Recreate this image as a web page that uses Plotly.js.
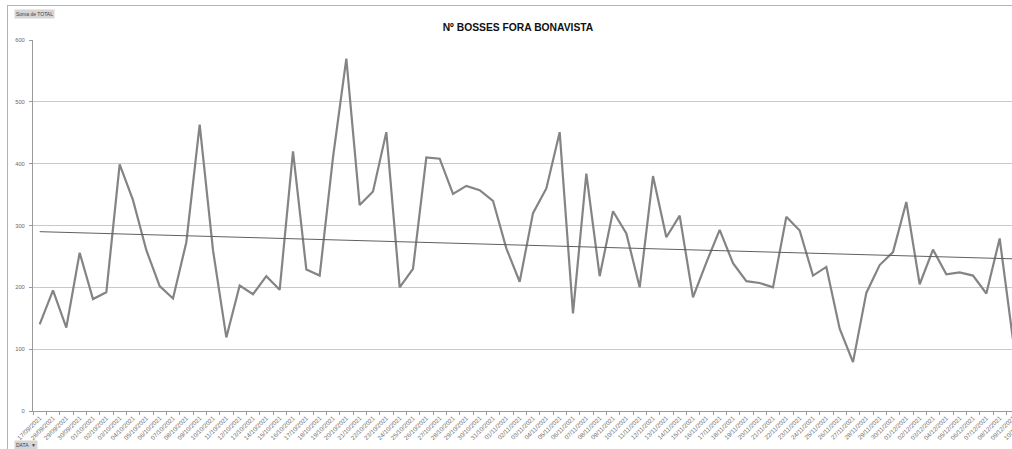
<!DOCTYPE html>
<html>
<head>
<meta charset="utf-8">
<script src="https://cdn.plot.ly/plotly-3.0.1.min.js"></script>
<style>
html, body { margin: 0; padding: 0; overflow: hidden; background: #fff; width: 1012px; height: 449px; }
#chart { position: absolute; left: 0; top: 0; }
#frame { position: absolute; left: 7px; top: 5px; width: 2000px; height: 2000px;
  border-left: 1px solid #b4b4b4; border-top: 1px solid #b4b4b4; pointer-events: none; }
</style>
</head>
<body>
<div id="chart"></div>
<div id="frame"></div>
<script>
// Categories (dates)
const dates = [
  "17/09/2021","28/09/2021","29/09/2021","30/09/2021",
  "01/10/2021","02/10/2021","03/10/2021","04/10/2021","05/10/2021","06/10/2021","07/10/2021","08/10/2021",
  "09/10/2021","10/10/2021","11/10/2021","12/10/2021","13/10/2021","14/10/2021","15/10/2021","16/10/2021",
  "17/10/2021","18/10/2021","19/10/2021","20/10/2021","21/10/2021","22/10/2021","23/10/2021","24/10/2021",
  "25/10/2021","26/10/2021","27/10/2021","28/10/2021","29/10/2021","30/10/2021","31/10/2021",
  "01/11/2021","02/11/2021","03/11/2021","04/11/2021","05/11/2021","06/11/2021","07/11/2021","08/11/2021",
  "09/11/2021","10/11/2021","11/11/2021","12/11/2021","13/11/2021","14/11/2021","15/11/2021","16/11/2021",
  "17/11/2021","18/11/2021","19/11/2021","20/11/2021","21/11/2021","22/11/2021","23/11/2021","24/11/2021",
  "25/11/2021","26/11/2021","27/11/2021","28/11/2021","29/11/2021","30/11/2021",
  "01/12/2021","02/12/2021","03/12/2021","04/12/2021","05/12/2021","06/12/2021","07/12/2021","08/12/2021",
  "09/12/2021","10/12/2021"
];

// Series: Soma de TOTAL
const totals = [
  140,195,135,256,181,192,399,341,260,202,
  182,273,463,260,119,203,189,218,196,420,
  229,219,410,570,333,355,451,200,230,410,
  408,351,364,357,340,263,209,320,360,451,
  158,384,218,323,287,200,380,281,316,184,
  240,293,239,210,207,200,314,292,219,233,
  133,79,191,236,257,338,205,261,221,224,
  219,190,279,115,150
];

// Linear trendline values at first and last category
const trendValues = [290, 245.5];

const yTicks = [0,100,200,300,400,500,600];

const W = 1045, H = 449;
const L = 33, R = 12, T = 40, B = 38;
const pw = W - L - R, ph = H - T - B;
function px2paperX(px) { return (px - L) / pw; }
function px2paperY(py) { return (H - B - py) / ph; }

const traces = [
  {
    type: 'scatter', mode: 'lines',
    x: dates, y: totals,
    line: { color: '#848484', width: 2.2 },
    hoverinfo: 'skip', showlegend: false
  },
  {
    type: 'scatter', mode: 'lines',
    x: [dates[0], dates[dates.length - 1]], y: trendValues,
    line: { color: '#5f5f5f', width: 1 },
    hoverinfo: 'skip', showlegend: false
  }
];

const layout = {
  width: W, height: H,
  margin: { l: L, r: R, t: T, b: B, pad: 0 },
  paper_bgcolor: 'rgba(0,0,0,0)',
  plot_bgcolor: '#ffffff',
  font: { family: 'Liberation Sans, Arial, sans-serif', color: '#666666' },
  title: {
    text: '<b>Nº BOSSES FORA BONAVISTA</b>',
    font: { family: 'Liberation Sans, Arial, sans-serif', size: 10.3, color: '#111111' },
    x: 518 / W, xref: 'container', xanchor: 'center',
    y: 1 - 27 / H, yref: 'container', yanchor: 'middle'
  },
  xaxis: {
    type: 'category',
    categoryorder: 'array', categoryarray: dates,
    range: [-0.5, dates.length - 0.5],
    tickson: 'boundaries',
    ticks: 'outside', ticklen: 3, tickcolor: '#9a9a9a', tickwidth: 1,
    tickangle: -45,
    tickfont: { size: 6.2, color: '#707070' },
    showgrid: false,
    showline: true, linecolor: '#9a9a9a', linewidth: 1,
    automargin: false, fixedrange: true
  },
  yaxis: {
    range: [0, 600],
    tickvals: yTicks,
    ticktext: yTicks.map(String),
    ticks: 'outside', ticklen: 3, tickcolor: '#9a9a9a', tickwidth: 1,
    tickfont: { size: 5.8, color: '#6a6a6a' },
    ticklabelstandoff: 3,
    showgrid: true, gridcolor: '#c9c9c9', gridwidth: 1,
    zeroline: false,
    showline: true, linecolor: '#9a9a9a', linewidth: 1,
    automargin: false, fixedrange: true
  },
  annotations: [
    {
      text: 'Soma de TOTAL', xref: 'paper', yref: 'paper',
      x: px2paperX(14), y: px2paperY(14), xanchor: 'left', yanchor: 'middle',
      showarrow: false, font: { size: 5, color: '#444' },
      bgcolor: '#d6d6d6', borderpad: 1
    },
    {
      text: 'DATA  ▼', xref: 'paper', yref: 'paper',
      x: px2paperX(14), y: px2paperY(445), xanchor: 'left', yanchor: 'middle',
      showarrow: false, font: { size: 5, color: '#444' },
      bgcolor: '#d6d6d6', borderpad: 1
    }
  ]
};

Plotly.newPlot('chart', traces, layout, { displayModeBar: false, staticPlot: true });
</script>
</body>
</html>
